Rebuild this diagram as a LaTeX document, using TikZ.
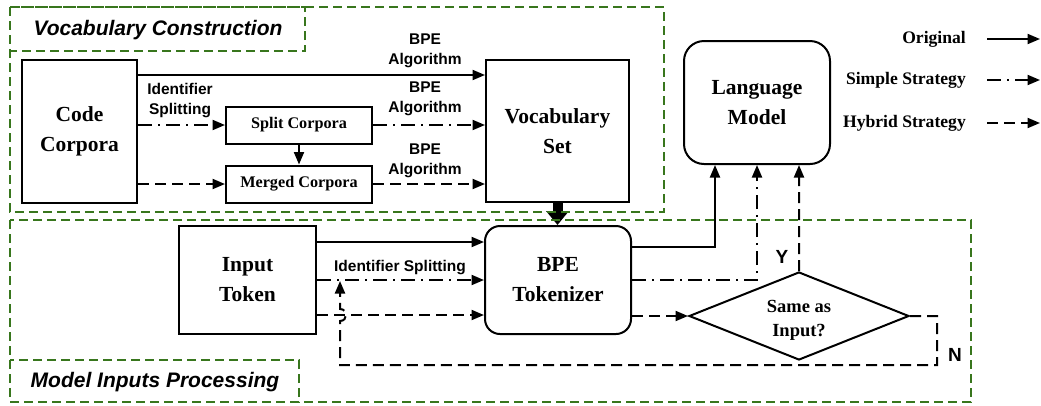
\documentclass[tikz,border=0pt]{standalone}
\usepackage{fontspec}
\setmainfont{Liberation Serif}
\newfontfamily\arialf{Liberation Sans}
\usetikzlibrary{arrows.meta,shapes.geometric}
\definecolor{grn}{HTML}{38761D}
\begin{document}
\begin{tikzpicture}[x=1bp,y=-1bp,
 blk/.style={draw, line width=2bp, inner sep=0pt, align=center, font=\fontsize{21.5bp}{30bp}\selectfont\bfseries},
 small/.style={draw, line width=2bp, inner sep=0pt, minimum width=146bp, minimum height=37bp, font=\fontsize{16.2bp}{20bp}\selectfont\bfseries},
 lbl/.style={font=\arialf\fontsize{15.5bp}{20bp}\selectfont\bfseries, align=center, inner sep=0pt},
 yn/.style={font=\arialf\fontsize{19bp}{22bp}\selectfont\bfseries, inner sep=0pt},
 leg/.style={anchor=east, inner sep=0pt, font=\fontsize{17.6bp}{20bp}\selectfont\bfseries},
 conn/.style={line width=2bp, -{Triangle[length=12.5bp,width=10bp]}},
 orig/.style={conn},
 simp/.style={conn, dash pattern=on 14bp off 6bp on 2bp off 6bp},
 hyb/.style={conn, dash pattern=on 11bp off 6bp},
 grp/.style={draw=grn, line width=1.6bp, dash pattern=on 9bp off 5bp},
 ttl/.style={font=\arialf\fontsize{21bp}{24bp}\selectfont\bfseries\itshape, inner sep=0pt}
]
\useasboundingbox (0,0) rectangle (1041,405);

% nodes
\node[blk, minimum width=115bp, minimum height=143bp] (cc) at (79.5,131.5) {Code\\Corpora};
\node[small] (sc) at (299,125) {Split Corpora};
\node[small] (mc) at (299,184) {Merged Corpora};
\node[blk, minimum width=143bp, minimum height=142bp] (vs) at (557.5,131) {Vocabulary\\Set};
\node[blk, rounded corners=20bp, minimum width=146bp, minimum height=123bp] (lm) at (757,102.5) {Language\\Model};
\node[blk, rounded corners=15bp, minimum width=146bp, minimum height=108bp] (bpe) at (558,280) {BPE\\Tokenizer};
\node[blk, minimum width=137bp, minimum height=108bp] (it) at (247.5,280) {Input\\Token};
\node[blk, diamond, aspect=2.5, minimum width=220bp, minimum height=88bp] (dm) at (799,316) {};
\node[align=center, inner sep=0pt, font=\fontsize{18.5bp}{24bp}\selectfont\bfseries] (dmt) at ([yshift=-4bp]dm.center) {Same as\\Input?};

% vocabulary construction connectors
\coordinate (o1) at ([yshift=56.5bp]cc.east);
\draw[orig] (o1) -- (o1 -| vs.west);
\draw[simp] (cc.east |- sc.west) -- (sc.west);
\draw[simp] (sc.east) -- (sc.east -| vs.west);
\draw[orig] (sc.south) -- (mc.north);
\draw[hyb] (cc.east |- mc.west) -- (mc.west);
\draw[hyb] (mc.east) -- (mc.east -| vs.west);

\node[lbl] (l1) at (425,51) {BPE\\Algorithm};
\node[lbl] (l2) at (425,99) {BPE\\Algorithm};
\node[lbl] (l3) at (425,161) {BPE\\Algorithm};
\node[lbl] (l4) at (180,101) {Identifier\\Splitting};

% thick arrow
\draw[line width=10bp, -{Triangle[length=14bp,width=22bp]}] (vs.south) -- (vs.south |- bpe.north);

% input token connectors
\coordinate (i1) at ([yshift=38bp]it.east);
\draw[orig] (i1) -- (i1 -| bpe.west);
\draw[simp] (it.east) -- (bpe.west);
\coordinate (i3) at ([yshift=-35bp]it.east);
\draw[hyb] (i3) -- (i3 -| bpe.west);
\node[lbl] (l5) at (400,268) {Identifier Splitting};

% BPE to LM
\coordinate (b1) at ([yshift=33bp]bpe.east);
\coordinate (m1) at ([xshift=-42bp]lm.south);
\draw[orig] (b1) -| (m1);
\draw[simp] (bpe.east) -| (lm.south);
\coordinate (m3) at ([xshift=42bp]lm.south);
\draw[hyb] (dm.north) -- (m3);
\draw[hyb] (bpe.east |- dm.west) -- (dm.west);
\node[yn] (ylab) at (782,257) {Y};

% loop back
\coordinate (n2) at (937,365);
\coordinate (hopA) at (340,321);
\coordinate (hopB) at (340,309);
\coordinate (tgt) at (340,281);
\draw[hyb] (dm.east) -| (n2) -| (hopA) .. controls +(8,0) and +(8,0) .. (hopB) -- (tgt);
\node[yn] (nlab) at (955,355) {N};

% groups
\draw[grp] (10,7) rectangle (664,212);
\draw[grp] (10,7) rectangle (305,51);
\node[ttl] (t1) at (158,30) {Vocabulary Construction};
\draw[grp] (10,220) rectangle (971,402);
\draw[grp] (10,360) rectangle (299,402);
\node[ttl] (t2) at (155,382) {Model Inputs Processing};

% legend
\node[leg] (g1) at (966,39) {Original};
\node[leg] (g2) at (966,80) {Simple Strategy};
\node[leg] (g3) at (966,123) {Hybrid Strategy};
\draw[orig] ([xshift=21bp]g1.east) -- ++(53,0);
\draw[simp] ([xshift=21bp]g2.east) -- ++(53,0);
\draw[hyb] ([xshift=21bp]g3.east) -- ++(53,0);
\end{tikzpicture}
\end{document}
